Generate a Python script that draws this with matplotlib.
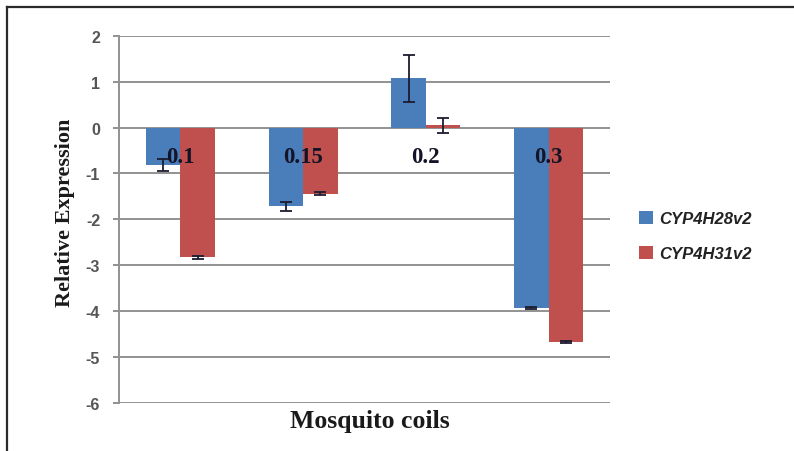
import matplotlib
matplotlib.use("Agg")
import matplotlib.pyplot as plt
import numpy as np
from matplotlib.lines import Line2D

categories = ["0.1", "0.15", "0.2", "0.3"]
series_names = ["CYP4H28v2", "CYP4H31v2"]
cyp28_values = [-0.82, -1.72, 1.07, -3.93]
cyp28_errors = [0.13, 0.10, 0.51, 0.02]
cyp31_values = [-2.83, -1.44, 0.05, -4.67]
cyp31_errors = [0.03, 0.04, 0.16, 0.02]
yticks = [2, 1, 0, -1, -2, -3, -4, -5, -6]

blue = "#4a7ebb"
red = "#c0504d"

fig = plt.figure(figsize=(7.94, 4.52), dpi=100)
ax = fig.add_axes([119/794, 1-404/452, (610-119)/794, (404-36.7)/452])

x = np.arange(len(categories))
w = 0.281
b1 = ax.bar(x - w/2, cyp28_values, w, color=blue, label=series_names[0], zorder=2)
b2 = ax.bar(x + w/2, cyp31_values, w, color=red, label=series_names[1], zorder=2)
ax.errorbar(x - w/2, cyp28_values, yerr=cyp28_errors, fmt="none", ecolor="#1c1c30",
            elinewidth=1.3, capsize=4, capthick=1.3, zorder=3)
ax.errorbar(x + w/2, cyp31_values, yerr=cyp31_errors, fmt="none", ecolor="#1c1c30",
            elinewidth=1.3, capsize=4, capthick=1.3, zorder=3)

for xi, lab in zip(x, categories):
    ax.text(xi, -0.755, lab, ha="center", va="baseline", fontsize=16.5,
            fontweight="bold", family="Liberation Serif", color="#141428", zorder=4)

ax.set_xlim(-0.5, 3.5)
ax.set_ylim(-6, 2)
ax.set_yticks(yticks)
ax.set_yticklabels([str(t) for t in yticks], fontsize=11.5, fontweight="bold",
                   family="Liberation Sans", color="#555555")
ax.set_xticks([])
ax.yaxis.grid(True, color="#929292", linewidth=1.4)
ax.set_axisbelow(True)
for s in ["top", "right", "bottom"]:
    ax.spines[s].set_visible(False)
ax.spines["left"].set_color("#929292")
ax.spines["left"].set_linewidth(1.4)
ax.tick_params(axis="y", direction="out", length=4.5, width=1.4, color="#929292", pad=9)

fig.text(65/794, 1-212.5/452, "Relative Expression", rotation=90, ha="center", va="center",
         fontsize=16, fontweight="bold", family="Liberation Serif", color="#1a1a1a")
fig.text(370/794, 1-422/452, "Mosquito coils", ha="center", va="center",
         fontsize=18.5, fontweight="bold", family="Liberation Serif", color="#1a1a1a")

leg = fig.legend(handles=[b1, b2], loc="center left", bbox_to_anchor=(624/794, 1-237/452),
                 frameon=False, prop={"family": "Liberation Sans", "weight": "bold",
                                      "style": "italic", "size": 12},
                 handlelength=0.85, handleheight=0.85, handletextpad=0.35, labelspacing=1.15)
for t in leg.get_texts():
    t.set_color("#222222")

fig.add_artist(Line2D([7/794, 1.0], [1-8/452, 1-8/452], transform=fig.transFigure,
                      color="#2a2a2a", linewidth=1.6))
fig.add_artist(Line2D([7/794, 7/794], [0.0, 1-8/452], transform=fig.transFigure,
                      color="#2a2a2a", linewidth=1.6))

fig.savefig("out.png", dpi=100)
